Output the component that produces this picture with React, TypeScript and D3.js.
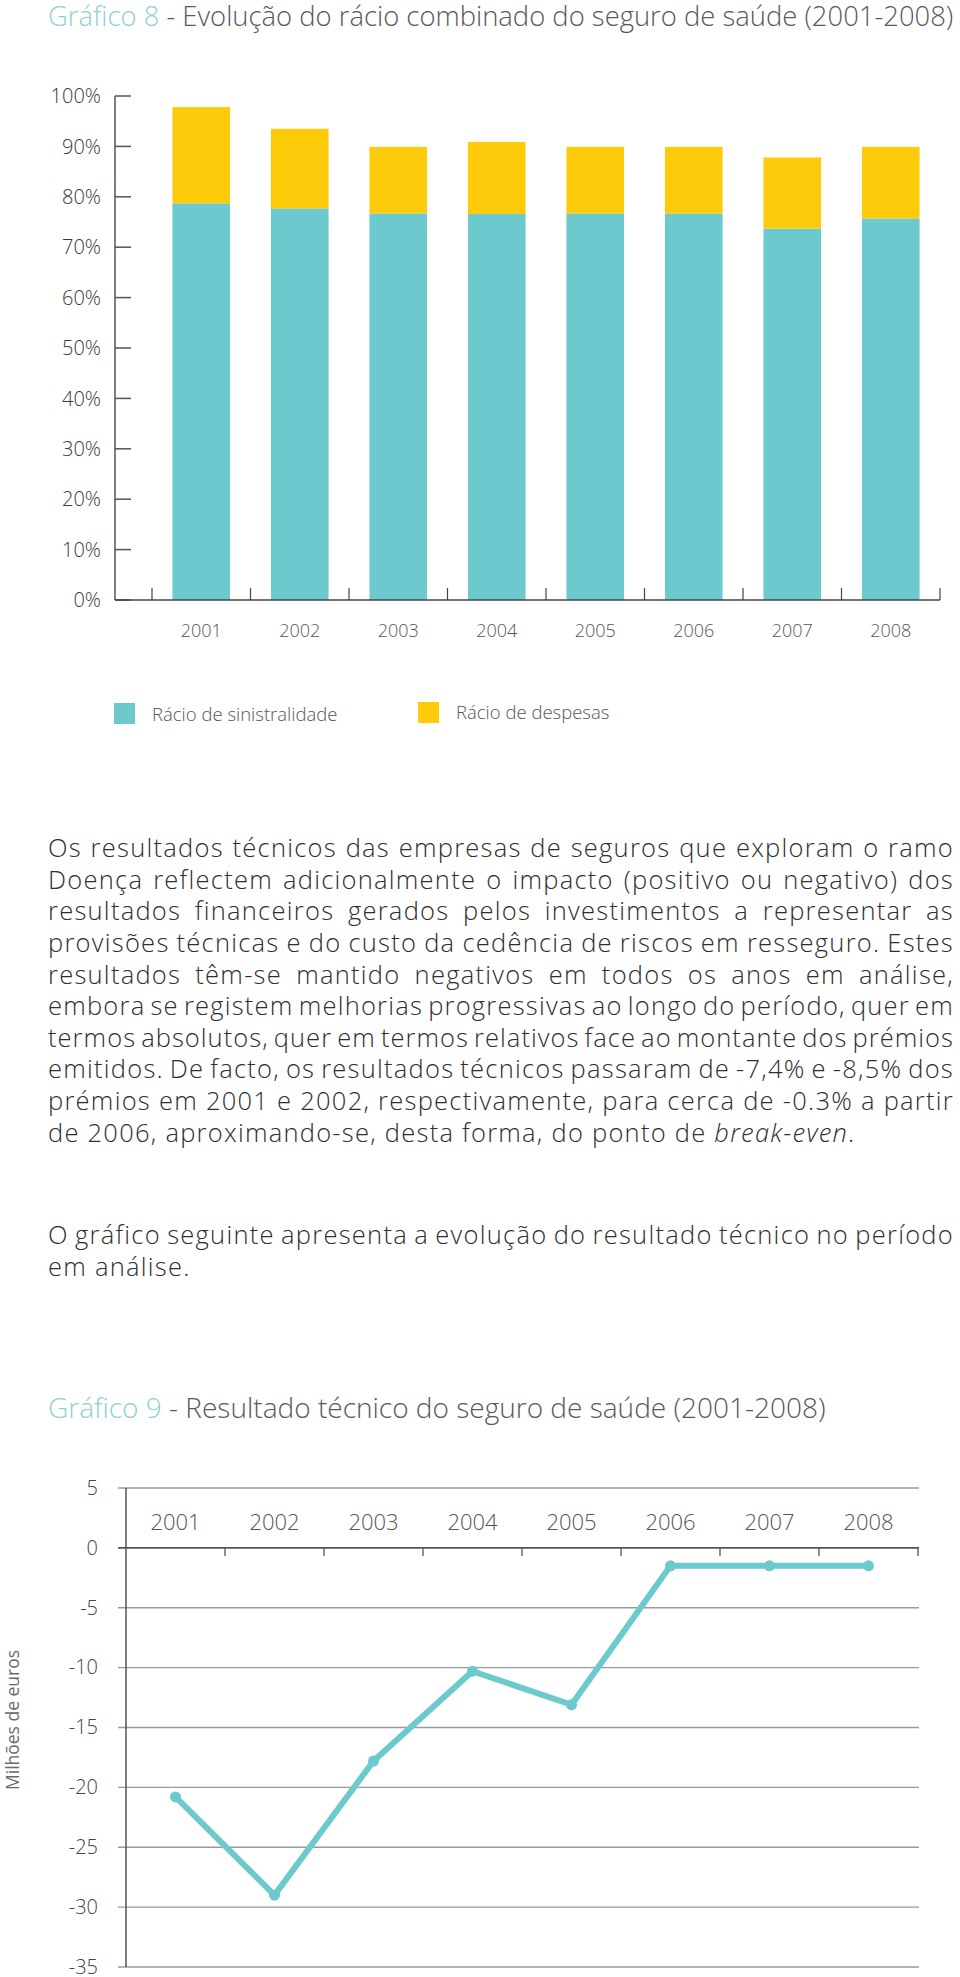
import React from "react";
import * as d3 from "d3";

// ---- data ----
const years = ["2001", "2002", "2003", "2004", "2005", "2006", "2007", "2008"];
const lossRatio = [78.7, 77.7, 76.7, 76.6, 76.7, 76.7, 73.7, 75.7];
const expenseRatio = [19.1, 15.8, 13.2, 14.3, 13.2, 13.2, 14.1, 14.2];
const pctTicks = [0, 10, 20, 30, 40, 50, 60, 70, 80, 90, 100];
const seriesNames = ["Rácio de sinistralidade", "Rácio de despesas"];

const techResult = [-20.8, -29.0, -17.8, -10.3, -13.1, -1.5, -1.5, -1.5];
const resultTicks = [5, 0, -5, -10, -15, -20, -25, -30, -35];

const paragraph1 = [
  "Os resultados técnicos das empresas de seguros que exploram o ramo",
  "Doença reflectem adicionalmente o impacto (positivo ou negativo) dos",
  "resultados financeiros gerados pelos investimentos a representar as",
  "provisões técnicas e do custo da cedência de riscos em resseguro. Estes",
  "resultados têm-se mantido negativos em todos os anos em análise,",
  "embora se registem melhorias progressivas ao longo do período, quer em",
  "termos absolutos, quer em termos relativos face ao montante dos prémios",
  "emitidos. De facto, os resultados técnicos passaram de -7,4% e -8,5% dos",
  "prémios em 2001 e 2002, respectivamente, para cerca de -0.3% a partir",
];
const paragraph1End = ["de 2006, aproximando-se, desta forma, do ponto de ", "break-even", "."];
const paragraph2 = [
  "O gráfico seguinte apresenta a evolução do resultado técnico no período",
  "em análise.",
];

const TEAL = "#6cc9cd";
const YELLOW = "#fecb0b";
const TITLE_TEAL = "#8fd0d2";
const FONT = "'Open Sans', 'Noto Sans', sans-serif";

const ctx = document.createElement("canvas").getContext("2d")!;
function textWidth(s: string, size: number, weight = 300, style = "normal") {
  ctx.font = `${style} ${weight} ${size}px 'Open Sans', 'Noto Sans', sans-serif`;
  return ctx.measureText(s).width;
}
// font size that makes a string span a given width
function fitSize(s: string, width: number, weight = 300) {
  return width / textWidth(s, 1, weight);
}

const PARA_SIZE = 25.5;
const PARA_LS = 1.25;

// justified line: words placed one by one so the line fills [left, right]
function JustifiedLine({ text, y, left, right }: any) {
  const words: string[] = text.split(" ");
  const raw = words.map((w) => textWidth(w, PARA_SIZE));
  const chars = d3.sum(words, (w) => w.length);
  const minGap = PARA_SIZE * 0.2;
  let ls = PARA_LS;
  // tight line: give up some letter spacing instead of squeezing the spaces
  if (right - left - d3.sum(raw) - ls * chars < minGap * (words.length - 1)) {
    ls = (right - left - d3.sum(raw) - minGap * (words.length - 1)) / chars;
  }
  const widths = words.map((w, i) => raw[i] + ls * w.length);
  const gap = (right - left - d3.sum(widths)) / (words.length - 1);
  let x = left;
  return (
    <g>
      {words.map((w, i) => {
        const el = (
          <text key={i} x={x} y={y} letterSpacing={ls}>
            {w}
          </text>
        );
        x += widths[i] + gap;
        return el;
      })}
    </g>
  );
}

function Title({ num, rest, y, width }: any) {
  const full = `Gráfico ${num} - ${rest}`;
  const size = fitSize(full, width);
  return (
    <text x={48} y={y} fontSize={size} fontWeight={300}>
      <tspan fill={TITLE_TEAL}>{`Gráfico ${num}`}</tspan>
      <tspan fill="#58595b">{` - ${rest}`}</tspan>
    </text>
  );
}

function BarChart() {
  const x = d3.scaleBand().domain(years).range([152, 940]).paddingInner(0.415).paddingOuter(0.2075);
  const y = d3.scaleLinear().domain([0, 100]).range([600, 96]);
  const table = years.map((yr, i) => ({ year: yr, loss: lossRatio[i], expense: expenseRatio[i] }));
  const stacked = d3.stack<any>().keys(["loss", "expense"])(table);
  const colors = [TEAL, YELLOW];
  const boundaries = [...years.map((d) => x(d)! - (x.step() - x.bandwidth()) / 2), 940];

  return (
    <g fontFamily={FONT}>
      <Title num={8} rest="Evolução do rácio combinado do seguro de saúde (2001-2008)" y={26} width={906} />
      {stacked.map((s, si) =>
        s.map((d: any, i: number) => (
          <rect
            key={`${si}-${i}`}
            x={x(years[i])}
            y={y(d[1])}
            width={x.bandwidth()}
            height={y(d[0]) - y(d[1])}
            fill={colors[si]}
          />
        ))
      )}
      {/* y axis */}
      <line x1={115} x2={115} y1={y(100)} y2={y(0)} stroke="#555" strokeWidth={1.5} />
      {pctTicks.map((t) => (
        <g key={t}>
          <line x1={115} x2={131} y1={y(t)} y2={y(t)} stroke="#555" strokeWidth={1.5} />
          <text x={101} y={y(t)} dy="0.36em" textAnchor="end" fontSize={20} fill="#3a3a3a" fontWeight={300}>
            {t}%
          </text>
        </g>
      ))}
      {/* x axis */}
      <line x1={115} x2={940} y1={y(0)} y2={y(0)} stroke="#444" strokeWidth={1.5} />
      {boundaries.map((b, i) => (
        <line key={i} x1={b} x2={b} y1={y(0)} y2={y(0) - 12} stroke="#444" strokeWidth={1.2} />
      ))}
      {years.map((yr) => (
        <text key={yr} x={x(yr)! + x.bandwidth() / 2} y={631} dy="0.36em" textAnchor="middle" fontSize={18} fill="#555" fontWeight={300}>
          {yr}
        </text>
      ))}
      {/* legend */}
      {seriesNames.map((name, i) => {
        const lx = i === 0 ? 114 : 418;
        return (
          <g key={name}>
            <rect x={lx} y={i === 0 ? 703 : 702} width={21} height={21} fill={colors[i]} />
            <text x={lx + 38} y={i === 0 ? 714 : 712.5} dy="0.36em" fontSize={18.5} fill="#555" fontWeight={300}>
              {name}
            </text>
          </g>
        );
      })}
    </g>
  );
}

function Paragraphs() {
  const left = 48;
  const right = 954;
  const base = (c: number) => c + PARA_SIZE * 0.36;
  const lineY = (i: number) => base(848 + i * 31.6);
  return (
    <g fontFamily={FONT} fontSize={PARA_SIZE} fill="#2e2e2e" fontWeight={300}>
      {paragraph1.map((l, i) => (
        <JustifiedLine key={i} text={l} y={lineY(i)} left={left} right={right} />
      ))}
      <text x={left} y={lineY(paragraph1.length)} letterSpacing={PARA_LS}>
        <tspan>{paragraph1End[0]}</tspan>
        <tspan fontStyle="italic">{paragraph1End[1]}</tspan>
        <tspan>{paragraph1End[2]}</tspan>
      </text>
      <JustifiedLine text={paragraph2[0]} y={base(1235)} left={left} right={right} />
      <text x={left} y={base(1266.5)} letterSpacing={PARA_LS}>
        {paragraph2[1]}
      </text>
    </g>
  );
}

function LineChart() {
  const x = d3.scaleBand().domain(years).range([126, 918]);
  const y = d3.scaleLinear().domain([-35, 5]).range([1967, 1488]);
  const cx = (yr: string) => x(yr)! + x.bandwidth() / 2;
  const line = d3
    .line<number>()
    .x((_, i) => cx(years[i]))
    .y((d) => y(d));
  const axisLabel = "Milhões de euros";

  return (
    <g fontFamily={FONT}>
      <Title num={9} rest="Resultado técnico do seguro de saúde (2001-2008)" y={1418} width={778} />
      {resultTicks.map((t) => (
        <g key={t}>
          <line x1={118} x2={919} y1={y(t)} y2={y(t)} stroke={t === 0 ? "#555" : "#9a9a9a"} strokeWidth={t === 0 ? 1.6 : 1.4} />
          <text x={98} y={y(t)} dy="0.34em" textAnchor="end" fontSize={20} fill="#444" fontWeight={300}>
            {t}
          </text>
        </g>
      ))}
      <line x1={126} x2={126} y1={y(5)} y2={y(-35)} stroke="#555" strokeWidth={1.5} />
      {years.map((yr) => (
        <line key={yr} x1={x(yr)! + x.bandwidth()} x2={x(yr)! + x.bandwidth()} y1={y(0)} y2={y(0) + 8} stroke="#555" strokeWidth={1.3} />
      ))}
      {years.map((yr) => (
        <text key={yr} x={cx(yr)} y={1522} dy="0.36em" textAnchor="middle" fontSize={22} fill="#555" fontWeight={300}>
          {yr}
        </text>
      ))}
      <path d={line(techResult)!} fill="none" stroke={TEAL} strokeWidth={6} strokeLinejoin="round" />
      {techResult.map((v, i) => (
        <circle key={i} cx={cx(years[i])} cy={y(v)} r={5.5} fill={TEAL} />
      ))}
      <text
        transform={`translate(19,1720) rotate(-90)`}
        textAnchor="middle"
        fontSize={fitSize(axisLabel, 140, 400)}
        fontWeight={400}
        fill="#6a6a6a"
      >
        {axisLabel}
      </text>
    </g>
  );
}

export default function App() {
  return (
    <svg width={960} height={1977} style={{ position: "absolute", left: 0, top: 0, background: "#fff" }}>
      <rect width={960} height={1977} fill="#fff" />
      <BarChart />
      <Paragraphs />
      <LineChart />
    </svg>
  );
}
